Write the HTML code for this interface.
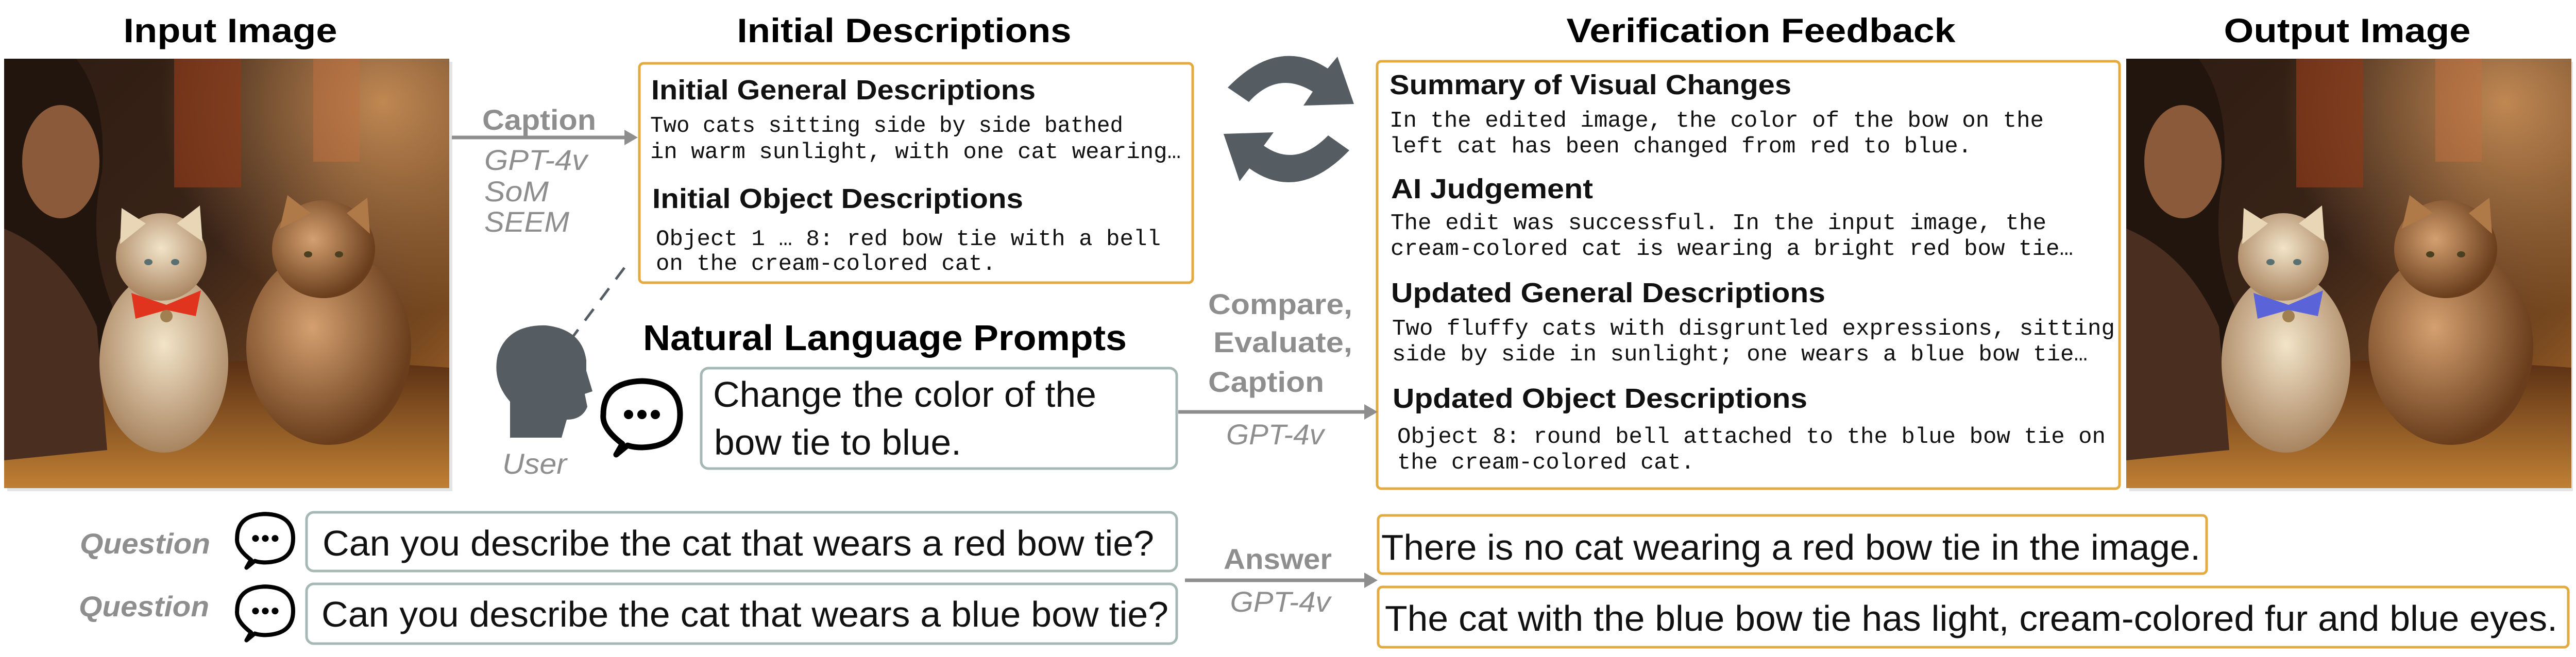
<!DOCTYPE html>
<html><head><meta charset="utf-8"><style>
html,body{margin:0;padding:0;background:#fff;}
svg{display:block;}
.t{font-family:"Liberation Sans",sans-serif;font-weight:bold;fill:#000;}
.h{font-family:"Liberation Sans",sans-serif;font-weight:bold;fill:#111;}
.m{font-family:"Liberation Mono",monospace;fill:#111;}
.g{font-family:"Liberation Sans",sans-serif;fill:#8e8e8e;}
.n{font-family:"Liberation Sans",sans-serif;fill:#111;}
</style></head><body>
<svg width="5014" height="1276" viewBox="0 0 5014 1276" xmlns="http://www.w3.org/2000/svg">
<defs>
<linearGradient id="bg" x1="0" y1="0" x2="1" y2="1">
<stop offset="0" stop-color="#2e1c12"/><stop offset="0.45" stop-color="#3a2418"/><stop offset="0.8" stop-color="#7a4a20"/><stop offset="1" stop-color="#b87028"/>
</linearGradient>
<radialGradient id="light" cx="0.85" cy="0.1" r="0.5"><stop offset="0" stop-color="#e0a060" stop-opacity="0.8"/><stop offset="1" stop-color="#e0a060" stop-opacity="0"/></radialGradient>
<radialGradient id="cat1" cx="0.5" cy="0.4" r="0.6"><stop offset="0" stop-color="#f2e4c8"/><stop offset="1" stop-color="#a88460"/></radialGradient>
<radialGradient id="cat2" cx="0.4" cy="0.4" r="0.6"><stop offset="0" stop-color="#d4a070"/><stop offset="1" stop-color="#6a3e1c"/></radialGradient>
<linearGradient id="floor" x1="0" y1="0" x2="0" y2="1"><stop offset="0" stop-color="#5a3014"/><stop offset="1" stop-color="#c08034"/></linearGradient>
<g id="scene">
<rect x="0" y="0" width="864" height="834" fill="url(#bg)"/>
<rect x="0" y="0" width="864" height="834" fill="url(#light)"/>
<rect x="330" y="0" width="130" height="250" fill="#8a3a1a" opacity="0.7"/>
<rect x="600" y="0" width="90" height="200" fill="#c07040" opacity="0.5"/>
<path d="M0 640 Q300 560 864 600 L864 834 L0 834 Z" fill="url(#floor)"/>
<path d="M0 0 L140 0 Q200 80 190 220 Q160 360 210 480 L180 700 L0 720 Z" fill="#22150e"/>
<ellipse cx="110" cy="200" rx="75" ry="110" fill="#8a5a3a"/>
<path d="M0 330 Q120 380 180 520 L200 760 L0 780 Z" fill="#4a2e20"/>
<ellipse cx="630" cy="560" rx="160" ry="190" fill="url(#cat2)"/>
<ellipse cx="620" cy="370" rx="100" ry="95" fill="url(#cat2)"/>
<polygon points="535,330 550,265 595,300" fill="#b07a48"/>
<polygon points="665,300 705,270 710,340" fill="#b07a48"/>
<ellipse cx="310" cy="590" rx="125" ry="175" fill="url(#cat1)"/>
<ellipse cx="305" cy="385" rx="88" ry="85" fill="url(#cat1)"/>
<polygon points="225,360 228,290 275,320" fill="#e8d6b6"/>
<polygon points="335,320 380,285 385,355" fill="#e8d6b6"/>
<ellipse cx="280" cy="395" rx="8" ry="6" fill="#5a7070"/><ellipse cx="332" cy="395" rx="8" ry="6" fill="#5a7070"/>
<ellipse cx="590" cy="380" rx="8" ry="6" fill="#4a4020"/><ellipse cx="650" cy="380" rx="8" ry="6" fill="#4a4020"/>
</g>
</defs>

<!-- Titles -->
<text class="t" x="447" y="82" font-size="66" text-anchor="middle" textLength="415" lengthAdjust="spacingAndGlyphs">Input Image</text>
<text class="t" x="1755" y="82" font-size="66" text-anchor="middle" textLength="649" lengthAdjust="spacingAndGlyphs">Initial Descriptions</text>
<text class="t" x="3418" y="82" font-size="66" text-anchor="middle" textLength="755" lengthAdjust="spacingAndGlyphs">Verification Feedback</text>
<text class="t" x="4556" y="82" font-size="66" text-anchor="middle" textLength="479" lengthAdjust="spacingAndGlyphs">Output Image</text>

<!-- Images -->
<rect x="14" y="120" width="864" height="834" fill="#ccc" opacity="0.5"/>
<g transform="translate(8,114)"><use href="#scene"/>
<path d="M247 455 L315 478 L382 450 L372 500 L315 488 L255 505 Z" fill="#e0341e"/><circle cx="315" cy="500" r="12" fill="#a08050"/></g>
<rect x="4133" y="120" width="861" height="834" fill="#ccc" opacity="0.5"/>
<g transform="translate(4127,114)"><use href="#scene"/>
<path d="M247 455 L315 478 L382 450 L372 500 L315 488 L255 505 Z" fill="#5a64d8"/><circle cx="315" cy="500" r="12" fill="#a08050"/></g>

<!-- Caption arrow -->
<line x1="877" y1="267" x2="1218" y2="267" stroke="#8e8e8e" stroke-width="7"/>
<polygon points="1238,267 1212,252 1212,282" fill="#8e8e8e"/>
<text class="g" x="936" y="252" font-size="56" font-weight="bold" textLength="221" lengthAdjust="spacingAndGlyphs">Caption</text>
<text class="g" x="940" y="330" font-size="56" font-style="italic" textLength="200" lengthAdjust="spacingAndGlyphs">GPT-4v</text>
<text class="g" x="940" y="391" font-size="56" font-style="italic" textLength="125" lengthAdjust="spacingAndGlyphs">SoM</text>
<text class="g" x="940" y="450" font-size="56" font-style="italic" textLength="165" lengthAdjust="spacingAndGlyphs">SEEM</text>

<!-- Initial box -->
<rect x="1241" y="123" width="1074" height="426" rx="8" fill="#fff" stroke="#e3aa40" stroke-width="5"/>
<text class="h" x="1264" y="193" font-size="54" textLength="746" lengthAdjust="spacingAndGlyphs">Initial General Descriptions</text>
<text class="m" x="1262" y="256" font-size="44" textLength="918" lengthAdjust="spacingAndGlyphs">Two cats sitting side by side bathed</text>
<text class="m" x="1262" y="307" font-size="44" textLength="1030" lengthAdjust="spacingAndGlyphs">in warm sunlight, with one cat wearing…</text>
<text class="h" x="1266" y="404" font-size="54" textLength="720" lengthAdjust="spacingAndGlyphs">Initial Object Descriptions</text>
<text class="m" x="1273" y="476" font-size="44" textLength="980" lengthAdjust="spacingAndGlyphs">Object 1 … 8: red bow tie with a bell</text>
<text class="m" x="1273" y="524" font-size="44" textLength="660" lengthAdjust="spacingAndGlyphs">on the cream-colored cat.</text>

<!-- Cycle arrows -->
<path d="M2383,170 Q2480,70 2577,133 L2596,110 L2628,202 L2530,205 L2548,178 Q2480,136 2424,198 Z" fill="#555d63"/>
<path d="M2619,292 Q2520,395 2425,327 L2406,352 L2375,260 L2472,257 L2453,283 Q2515,327 2578,263 Z" fill="#555d63"/>

<!-- Verification box -->
<rect x="2673" y="119" width="1441" height="830" rx="8" fill="#fff" stroke="#e3aa40" stroke-width="5"/>
<text class="h" x="2697" y="183" font-size="54" textLength="780" lengthAdjust="spacingAndGlyphs">Summary of Visual Changes</text>
<text class="m" x="2697" y="246" font-size="44" textLength="1270" lengthAdjust="spacingAndGlyphs">In the edited image, the color of the bow on the</text>
<text class="m" x="2697" y="296" font-size="44" textLength="1130" lengthAdjust="spacingAndGlyphs">left cat has been changed from red to blue.</text>
<text class="h" x="2700" y="385" font-size="54" textLength="392" lengthAdjust="spacingAndGlyphs">AI Judgement</text>
<text class="m" x="2699" y="445" font-size="44" textLength="1273" lengthAdjust="spacingAndGlyphs">The edit was successful. In the input image, the</text>
<text class="m" x="2699" y="495" font-size="44" textLength="1325" lengthAdjust="spacingAndGlyphs">cream-colored cat is wearing a bright red bow tie…</text>
<text class="h" x="2700" y="587" font-size="54" textLength="843" lengthAdjust="spacingAndGlyphs">Updated General Descriptions</text>
<text class="m" x="2702" y="650" font-size="44" textLength="1403" lengthAdjust="spacingAndGlyphs">Two fluffy cats with disgruntled expressions, sitting</text>
<text class="m" x="2702" y="700" font-size="44" textLength="1350" lengthAdjust="spacingAndGlyphs">side by side in sunlight; one wears a blue bow tie…</text>
<text class="h" x="2703" y="792" font-size="54" textLength="805" lengthAdjust="spacingAndGlyphs">Updated Object Descriptions</text>
<text class="m" x="2712" y="860" font-size="44" textLength="1375" lengthAdjust="spacingAndGlyphs">Object 8: round bell attached to the blue bow tie on</text>
<text class="m" x="2712" y="910" font-size="44" textLength="577" lengthAdjust="spacingAndGlyphs">the cream-colored cat.</text>

<!-- User + dashed arrow -->
<path d="M1212 520 L1070 710" stroke="#555d63" stroke-width="5" stroke-dasharray="28 22" fill="none"/>
<polygon points="1050,745 1055,705 1082,722" fill="#555d63"/>
<path d="M990 850 L990 780 Q955 740 966 690 Q985 630 1060 632 Q1130 640 1138 700 L1138 720 L1150 760 L1135 765 L1140 790 Q1130 815 1100 815 L1090 850 Z" fill="#555d63"/>
<text class="g" x="975" y="920" font-size="56" font-style="italic" textLength="125" lengthAdjust="spacingAndGlyphs">User</text>

<!-- NLP -->
<text class="t" x="1248" y="680" font-size="70" textLength="939" lengthAdjust="spacingAndGlyphs">Natural Language Prompts</text>
<g transform="translate(1168,737)">
<path d="M40 125 Q0 95 3 68 Q3 5 78 3 Q152 5 152 68 Q152 130 78 132 Q62 132 50 128 L28 146 Z" fill="#fff" stroke="#000" stroke-width="11" stroke-linejoin="round"/>
<circle cx="52" cy="68" r="9"/><circle cx="78" cy="68" r="9"/><circle cx="104" cy="68" r="9"/>
</g>
<rect x="1361" y="715" width="923" height="195" rx="14" fill="#fff" stroke="#a6b8b4" stroke-width="5"/>
<text class="n" x="1384" y="790" font-size="70" textLength="744" lengthAdjust="spacingAndGlyphs">Change the color of the</text>
<text class="n" x="1386" y="883" font-size="70" textLength="480" lengthAdjust="spacingAndGlyphs">bow tie to blue.</text>

<!-- Compare arrow -->
<text class="g" x="2625" y="610" font-size="56" font-weight="bold" text-anchor="end" textLength="280" lengthAdjust="spacingAndGlyphs">Compare,</text>
<text class="g" x="2625" y="684" font-size="56" font-weight="bold" text-anchor="end" textLength="270" lengthAdjust="spacingAndGlyphs">Evaluate,</text>
<text class="g" x="2570" y="761" font-size="56" font-weight="bold" text-anchor="end" textLength="225" lengthAdjust="spacingAndGlyphs">Caption</text>
<text class="g" x="2570" y="863" font-size="56" font-style="italic" text-anchor="end" textLength="190" lengthAdjust="spacingAndGlyphs">GPT-4v</text>
<line x1="2287" y1="800" x2="2655" y2="800" stroke="#8e8e8e" stroke-width="7"/>
<polygon points="2674,800 2648,785 2648,815" fill="#8e8e8e"/>

<!-- Questions -->
<text class="g" x="155" y="1075" font-size="56" font-weight="bold" font-style="italic" textLength="253" lengthAdjust="spacingAndGlyphs">Question</text>
<text class="g" x="153" y="1197" font-size="56" font-weight="bold" font-style="italic" textLength="253" lengthAdjust="spacingAndGlyphs">Question</text>
<g transform="translate(458,996) scale(0.73)">
<path d="M40 125 Q0 95 3 68 Q3 5 78 3 Q152 5 152 68 Q152 130 78 132 Q62 132 50 128 L28 146 Z" fill="#fff" stroke="#000" stroke-width="11" stroke-linejoin="round"/>
<circle cx="52" cy="68" r="9"/><circle cx="78" cy="68" r="9"/><circle cx="104" cy="68" r="9"/>
</g>
<g transform="translate(458,1137) scale(0.73)">
<path d="M40 125 Q0 95 3 68 Q3 5 78 3 Q152 5 152 68 Q152 130 78 132 Q62 132 50 128 L28 146 Z" fill="#fff" stroke="#000" stroke-width="11" stroke-linejoin="round"/>
<circle cx="52" cy="68" r="9"/><circle cx="78" cy="68" r="9"/><circle cx="104" cy="68" r="9"/>
</g>
<rect x="595" y="995" width="1689" height="114" rx="14" fill="#fff" stroke="#a6b8b4" stroke-width="5"/>
<rect x="595" y="1134" width="1689" height="116" rx="14" fill="#fff" stroke="#a6b8b4" stroke-width="5"/>
<text class="n" x="626" y="1079" font-size="70" textLength="1614" lengthAdjust="spacingAndGlyphs">Can you describe the cat that wears a red bow tie?</text>
<text class="n" x="624" y="1217" font-size="70" textLength="1644" lengthAdjust="spacingAndGlyphs">Can you describe the cat that wears a blue bow tie?</text>

<!-- Answer arrow -->
<text class="g" x="2480" y="1105" font-size="56" font-weight="bold" text-anchor="middle" textLength="210" lengthAdjust="spacingAndGlyphs">Answer</text>
<text class="g" x="2485" y="1188" font-size="56" font-style="italic" text-anchor="middle" textLength="195" lengthAdjust="spacingAndGlyphs">GPT-4v</text>
<line x1="2300" y1="1127" x2="2655" y2="1127" stroke="#8e8e8e" stroke-width="7"/>
<polygon points="2674,1127 2648,1112 2648,1142" fill="#8e8e8e"/>

<!-- Answers -->
<rect x="2675" y="1001" width="1608" height="113" rx="8" fill="#fff" stroke="#e3aa40" stroke-width="5"/>
<rect x="2675" y="1140" width="2310" height="117" rx="8" fill="#fff" stroke="#e3aa40" stroke-width="5"/>
<text class="n" x="2681" y="1087" font-size="70" textLength="1590" lengthAdjust="spacingAndGlyphs">There is no cat wearing a red bow tie in the image.</text>
<text class="n" x="2688" y="1225" font-size="70" textLength="2276" lengthAdjust="spacingAndGlyphs">The cat with the blue bow tie has light, cream-colored fur and blue eyes.</text>
</svg>
</body></html>
